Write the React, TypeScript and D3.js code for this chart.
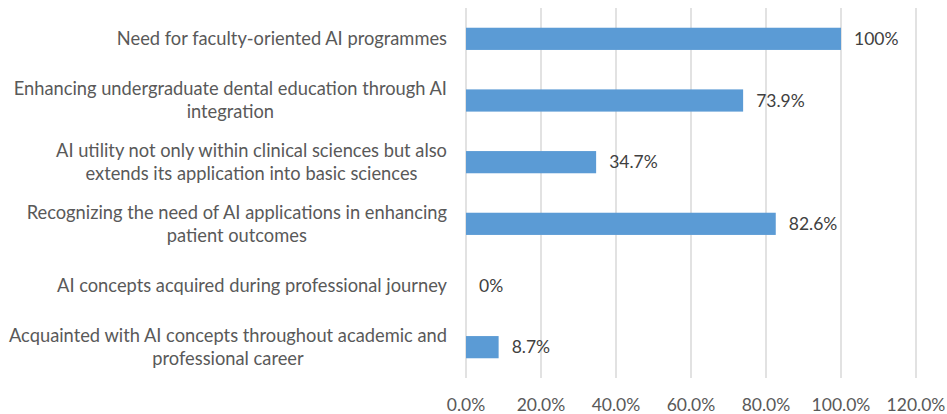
import React, { useEffect, useRef } from 'react'
import * as d3 from 'd3'

const categories = [
  ['Need for faculty-oriented AI programmes'],
  ['Enhancing undergraduate dental education through AI', 'integration'],
  ['AI utility not only within clinical sciences but also', 'extends its application into basic sciences'],
  ['Recognizing the need of AI applications in enhancing', 'patient outcomes'],
  ['AI concepts acquired during professional journey'],
  ['Acquainted with AI concepts throughout academic and', 'professional career'],
]
const values = [100, 73.9, 34.7, 82.6, 0, 8.7]
const valueLabels = ['100%', '73.9%', '34.7%', '82.6%', '0%', '8.7%']
const ticks = [0, 20, 40, 60, 80, 100, 120]

const W = 947
const H = 414
const FONT = 'Lato, "Open Sans", sans-serif'

export default function App() {
  const ref = useRef<SVGSVGElement>(null)

  useEffect(() => {
    const svg = d3.select(ref.current)
    svg.selectAll('*').remove()

    const x = d3.scaleLinear().domain([0, 120]).range([466, 916])
    const y = d3.scaleBand<number>()
      .domain(d3.range(values.length))
      .range([8, 378])
      .paddingInner(0.64)
      .paddingOuter(0.32)

    // gridlines
    svg.append('g')
      .selectAll('line')
      .data(ticks)
      .join('line')
      .attr('x1', d => x(d))
      .attr('x2', d => x(d))
      .attr('y1', 8)
      .attr('y2', 378)
      .attr('stroke', '#d9d9d9')
      .attr('stroke-width', 1.5)

    // bars
    svg.append('g')
      .selectAll('rect')
      .data(values)
      .join('rect')
      .attr('x', x(0))
      .attr('y', (d, i) => y(i)!)
      .attr('width', d => x(d) - x(0))
      .attr('height', y.bandwidth())
      .attr('fill', '#5b9bd5')

    // value labels
    svg.append('g')
      .selectAll('text')
      .data(values)
      .join('text')
      .attr('x', d => x(d) + 13)
      .attr('y', (d, i) => y(i)! + y.bandwidth() / 2)
      .attr('dy', '0.35em')
      .attr('font-family', FONT)
      .attr('font-size', 17.5)
      .attr('fill', '#404040')
      .text((d, i) => valueLabels[i])

    // x tick labels
    svg.append('g')
      .selectAll('text')
      .data(ticks)
      .join('text')
      .attr('x', d => x(d))
      .attr('y', 405)
      .attr('dy', '0.35em')
      .attr('text-anchor', 'middle')
      .attr('font-family', FONT)
      .attr('font-size', 17.5)
      .attr('fill', '#595959')
      .text(d => d.toFixed(1) + '%')

    // category labels: block right-aligned, lines centered within block
    const right = 447
    const lineH = 23
    const cat = svg.append('g')
    categories.forEach((lines, i) => {
      const cy = y(i)! + y.bandwidth() / 2
      const g = cat.append('g')
      const texts = lines.map((l, j) =>
        g.append('text')
          .attr('y', cy + (j - (lines.length - 1) / 2) * lineH)
          .attr('dy', '0.35em')
          .attr('text-anchor', 'middle')
          .attr('font-family', FONT)
          .attr('font-size', 18.3)
          .attr('fill', '#595959')
          .text(l))
      const widths = texts.map(t => (t.node() as SVGTextElement).getComputedTextLength())
      const maxW = d3.max(widths) || 0
      texts.forEach(t => t.attr('x', right - maxW / 2))
    })
  }, [])

  return (
    <svg ref={ref} width={W} height={H}
      style={{ position: 'absolute', left: 0, top: 0, background: '#fff' }} />
  )
}
